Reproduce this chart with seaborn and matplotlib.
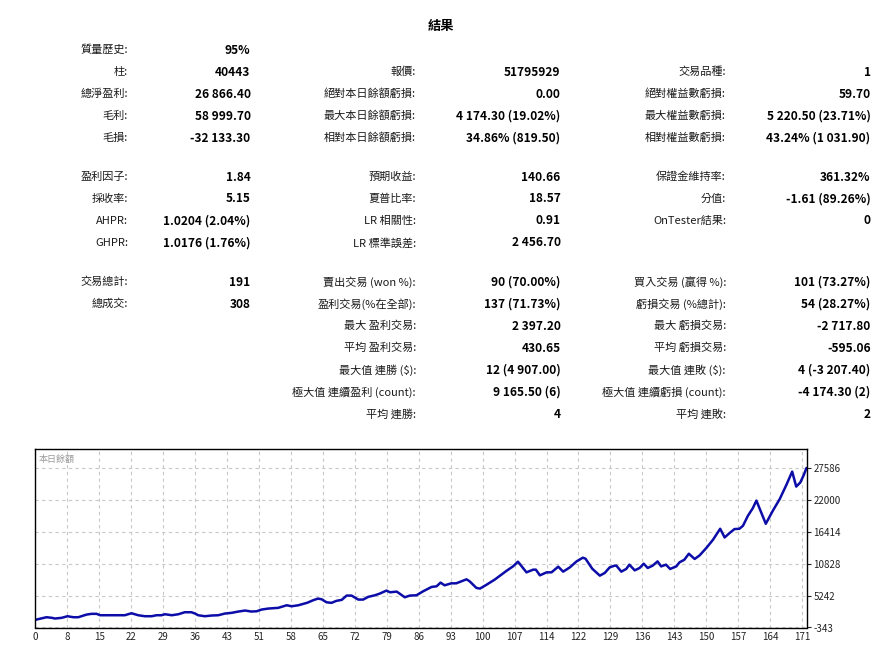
import numpy as np
import matplotlib
matplotlib.use("Agg")
import matplotlib.pyplot as plt
import seaborn as sns

W, H = 896, 658

TITLE = "結果"

# ----------------------------
# Report table (16 row slots, None = empty cell)
# ----------------------------
COL1_LABELS = [
    "質量歷史:", "柱:", "總淨盈利:", "毛利:", "毛損:",
    "盈利因子:", "採收率:", "AHPR:", "GHPR:",
    "交易總計:", "總成交:", None, None, None, None, None,
]
COL1_VALUES = [
    "95%", "40443", "26 866.40", "58 999.70", "-32 133.30",
    "1.84", "5.15", "1.0204 (2.04%)", "1.0176 (1.76%)",
    "191", "308", None, None, None, None, None,
]
COL2_LABELS = [
    None, "報價:", "絕對本日餘額虧損:", "最大本日餘額虧損:", "相對本日餘額虧損:",
    "預期收益:", "夏普比率:", "LR 相關性:", "LR 標準誤差:",
    "賣出交易 (won %):", "盈利交易(%在全部):", "最大 盈利交易:", "平均 盈利交易:",
    r"最大值 連勝 (\$):", "極大值 連續盈利 (count):", "平均 連勝:",
]
COL2_VALUES = [
    None, "51795929", "0.00", "4 174.30 (19.02%)", "34.86% (819.50)",
    "140.66", "18.57", "0.91", "2 456.70",
    "90 (70.00%)", "137 (71.73%)", "2 397.20", "430.65",
    "12 (4 907.00)", "9 165.50 (6)", "4",
]
COL3_LABELS = [
    None, "交易品種:", "絕對權益數虧損:", "最大權益數虧損:", "相對權益數虧損:",
    "保證金維持率:", "分值:", "OnTester結果:", None,
    "買入交易 (贏得 %):", "虧損交易 (%總計):", "最大 虧損交易:", "平均 虧損交易:",
    r"最大值 連敗 (\$):", "極大值 連續虧損 (count):", "平均 連敗:",
]
COL3_VALUES = [
    None, "1", "59.70", "5 220.50 (23.71%)", "43.24% (1 031.90)",
    "361.32%", "-1.61 (89.26%)", "0", None,
    "101 (73.27%)", "54 (28.27%)", "-2 717.80", "-595.06",
    "4 (-3 207.40)", "-4 174.30 (2)", "2",
]
ROW_GROUP = [0] * 5 + [1] * 4 + [2] * 7

# ----------------------------
# Balance curve (trade number, balance)
# ----------------------------
TRADE_IDX = [
    0.0, 1.0, 2.5, 3.7, 4.4, 5.9, 7.2, 8.5, 9.6, 11.5, 12.6, 13.7, 14.5, 20.0,
    21.5, 23.0, 24.5, 26.0, 27.1, 28.2, 29.0, 30.5, 32.0, 33.4, 34.9, 35.7,
    36.4, 37.9, 39.4, 40.9, 42.4, 43.9, 45.4, 46.9, 48.3, 49.5, 50.6, 52.1,
    54.3, 56.2, 57.3, 58.8, 59.9, 60.8, 62.1, 63.2, 64.0, 65.1, 66.2, 67.3,
    68.5, 69.6, 70.7, 72.2, 73.3, 74.4, 75.9, 77.0, 78.5, 79.3, 80.8, 82.6,
    83.7, 85.2, 86.7, 88.6, 89.7, 90.6, 91.5, 93.0, 94.1, 96.4, 97.1, 98.6,
    99.4, 100.8, 102.7, 105.3, 106.8, 107.9, 109.8, 111.3, 111.9, 112.8,
    114.3, 115.4, 116.9, 118.0, 119.5, 121.0, 122.4, 123.0, 124.5, 126.2,
    127.3, 128.4, 129.5, 129.9, 131.0, 132.1, 132.8, 134.0, 135.1, 136.0,
    136.9, 138.0, 139.1, 139.9, 141.0, 141.9, 143.3, 144.0, 145.1, 146.1,
    147.4, 148.5, 150.0, 151.5, 153.1, 154.1, 155.2, 156.3, 157.4, 158.2,
    159.3, 160.4, 161.2, 163.3, 164.9, 166.4, 167.9, 169.2, 170.1, 171.0,
    171.8, 172.4,
]
BALANCE = [
    1000, 1176, 1455, 1350, 1228, 1350, 1630, 1455, 1455, 1926, 2048, 2048, 1804, 1804,
    2153, 1804, 1630, 1630, 1804, 1804, 1979, 1804, 1979, 2328, 2328, 2101,
    1804, 1630, 1752, 1804, 2101, 2223, 2450, 2625, 2450, 2502, 2799, 2974,
    3096, 3550, 3375, 3550, 3794, 3990, 4423, 4719, 4600, 4073, 3969, 4318,
    4493, 5243, 5243, 4545, 4545, 5016, 5295, 5592, 6116, 5819, 5941, 4946,
    5243, 5295, 5993, 6761, 6866, 7512, 7041, 7390, 7390, 8088, 7739, 6587,
    6465, 7111, 8036, 9554, 10362, 11178, 9310, 9782, 9782, 8786,
    9310, 9310, 10305, 9432, 10183, 11230, 11876, 11701, 9950, 8734,
    9205, 10183, 10480, 10480, 9432, 9904, 10654, 9659, 10078, 10829,
    10078, 10480, 11230, 10353, 10654, 9904, 10353, 11055, 11527, 12574,
    11649, 12278, 13569, 15018, 16938, 15420, 16187, 16885, 16938, 17462,
    19207, 20547, 21870, 17812, 20138, 22118, 24619, 26941, 24322, 25027,
    26365, 27586,
]
Y_TICKS = [-343, 5242, 10828, 16414, 22000, 27586]
X_TICK_LABELS = [
    "0", "8", "15", "22", "29", "36", "43", "51", "58", "65", "72", "79", "86",
    "93", "100", "107", "114", "122", "129", "136", "143", "150", "157", "164", "171",
]
CHART_LABEL = "本日餘額"


def fx(x):
    return x / W


def fy(y):
    return 1 - y / H


sns.set_style("white")
plt.rcParams["font.family"] = ["Noto Sans CJK TC", "DejaVu Sans"]

fig = plt.figure(figsize=(W / 100, H / 100), dpi=100)
fig.patch.set_facecolor("white")

fig.text(fx(440.5), fy(26), TITLE, ha="center", va="center",
         fontsize=9.5, fontweight="bold", color="black")

# column right edges in pixels: (label, value)
columns = [
    (COL1_LABELS, COL1_VALUES, 128, 250.5),
    (COL2_LABELS, COL2_VALUES, 416, 560.5),
    (COL3_LABELS, COL3_VALUES, 726, 870.5),
]
for labels, values, lab_x, val_x in columns:
    for i, (lab, val) in enumerate(zip(labels, values)):
        y = 50 + 22 * i + 17 * ROW_GROUP[i]
        if lab is not None:
            fig.text(fx(lab_x), fy(y), lab, ha="right", va="center",
                     fontsize=8, color="#1a1a1a")
        if val is not None:
            fig.text(fx(val_x), fy(y), val, ha="right", va="center",
                     fontsize=8.6, fontweight="bold", color="black")

# ----------------------------
# Balance chart
# ----------------------------
left, right, top, bottom = 35.3, 806.5, 449, 627.5
ax = fig.add_axes([fx(left), fy(bottom), fx(right - left), (bottom - top) / H])

sns.lineplot(x=TRADE_IDX, y=BALANCE, ax=ax, color="#0c0ca8",
             linewidth=1.8, estimator=None, sort=False)

ax.set_xlim(0, 172.4)
ax.set_ylim(-343, 30900)

ax.set_xticks(np.arange(len(X_TICK_LABELS)) * 50 / 7)
ax.set_xticklabels(X_TICK_LABELS)
ax.set_yticks(Y_TICKS)
ax.set_yticklabels([str(v) for v in Y_TICKS])
ax.yaxis.tick_right()

ax.tick_params(axis="x", length=0, pad=3, labelsize=7, colors="#222222")
ax.tick_params(axis="y", length=3, width=0.8, pad=2, labelsize=7,
               colors="#222222", direction="out")

ax.grid(True, color="#c8c8c8", linestyle=(0, (3, 3)), linewidth=0.8)
ax.set_axisbelow(True)
for sp in ax.spines.values():
    sp.set_color("black")
    sp.set_linewidth(1.0)

ax.text(0.004, 0.94, CHART_LABEL, transform=ax.transAxes, ha="left",
        va="center", fontsize=6.5, color="#9a9a9a")

fig.savefig("out.png", dpi=100, facecolor="white")
